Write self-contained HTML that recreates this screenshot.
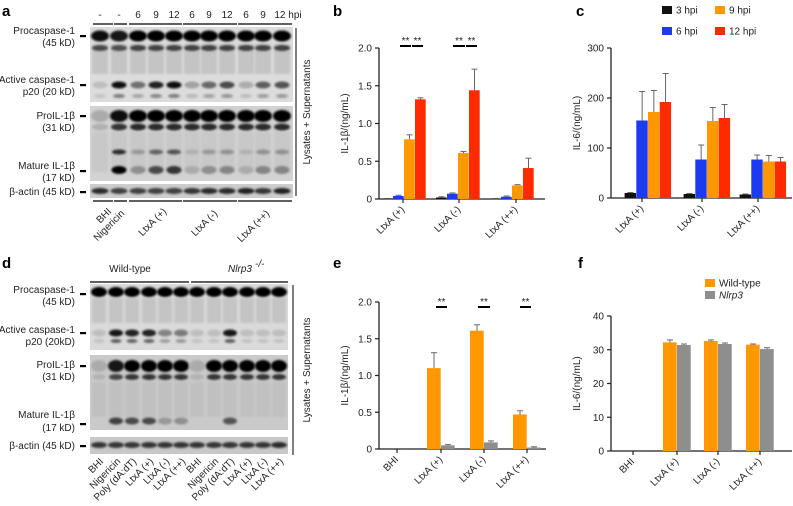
<!DOCTYPE html>
<html><head><meta charset="utf-8">
<style>
html,body{margin:0;padding:0;background:#fff;}
svg{display:block;font-family:"Liberation Sans",Arial,sans-serif;}
.t{font-size:10px;fill:#222;}
.pl{font-size:15px;font-weight:bold;fill:#000;}
</style></head>
<body>
<svg id="fig" width="793" height="506" viewBox="0 0 793 506" xmlns="http://www.w3.org/2000/svg">
<defs>
<filter id="blur1" x="-50%" y="-50%" width="200%" height="200%"><feGaussianBlur stdDeviation="1.1"/></filter>
</defs>
<text class="pl" x="2" y="16">a</text>
<text class="pl" x="333" y="16">b</text>
<text class="pl" x="576" y="16">c</text>
<text class="pl" x="2" y="268">d</text>
<text class="pl" x="333" y="268">e</text>
<text class="pl" x="578" y="268">f</text>
<g id="blots"></g>
<g id="charts"></g>
</svg>
<script>
// ---------- chart data ----------
const bCats = ["LtxA (+)", "LtxA (-)", "LtxA (++)"];
const bSeries = ["3 hpi", "6 hpi", "9 hpi", "12 hpi"];
const b3 = [0.005, 0.02, 0.005];
const b6 = [0.04, 0.07, 0.03];
const b9 = [0.79, 0.61, 0.18];
const b12 = [1.32, 1.44, 0.41];
const b3e = [0, 0.01, 0];
const b6e = [0.01, 0.01, 0.01];
const b9e = [0.06, 0.02, 0.01];
const b12e = [0.02, 0.28, 0.13];
const bTicks = [0, 0.5, 1.0, 1.5, 2.0];
const bTickLabels = ["0", "0.5", "1.0", "1.5", "2.0"];

const cCats = ["LtxA (+)", "LtxA (-)", "LtxA (++)"];
const c3 = [10, 8, 7];
const c6 = [155, 77, 77];
const c9 = [172, 154, 73];
const c12 = [192, 160, 73];
const c3e = [1, 1, 1];
const c6e = [58, 29, 9];
const c9e = [43, 27, 12];
const c12e = [57, 27, 8];
const cTicks = [0, 100, 200, 300];

const eCats = ["BHI", "LtxA (+)", "LtxA (-)", "LtxA (++)"];
const eWT = [0, 1.10, 1.61, 0.47];
const eNl = [0, 0.05, 0.09, 0.02];
const eWTe = [0, 0.21, 0.08, 0.05];
const eNle = [0, 0.01, 0.02, 0.01];
const eTicks = [0, 0.5, 1.0, 1.5, 2.0];
const eTickLabels = ["0", "0.5", "1.0", "1.5", "2.0"];

const fCats = ["BHI", "LtxA (+)", "LtxA (-)", "LtxA (++)"];
const fWT = [0, 32.2, 32.6, 31.5];
const fNl = [0, 31.4, 31.7, 30.2];
const fWTe = [0, 0.7, 0.3, 0.2];
const fNle = [0, 0.3, 0.3, 0.4];
const fTicks = [0, 10, 20, 30, 40];

const COL = {k:"#111111", b:"#1c3af0", o:"#ff9800", r:"#ff2a00", g:"#8e8e8e"};
const NS = "http://www.w3.org/2000/svg";
const charts = document.getElementById("charts");
function mk(tag, attrs, parent){
  const e = document.createElementNS(NS, tag);
  for (const k in attrs) e.setAttribute(k, attrs[k]);
  (parent||charts).appendChild(e);
  return e;
}
function txt(x,y,s,attrs,parent){
  const e = mk("text", Object.assign({x:x,y:y,class:"t"},attrs||{}), parent);
  e.textContent = s; return e;
}

function barChart(o){
  const g = mk("g", {});
  
  
  const ys = v => o.y0 - (v - o.min)/(o.max - o.min)*(o.y0 - o.y1);
  const ya = mk("line",{x1:o.x0,y1:o.y1,x2:o.x0,y2:o.y0+0.5,stroke:"#222","stroke-width":1.3},g);
  
  
  o.ticks.forEach((t,i)=>{
    const y = ys(t);
    mk("line",{x1:o.x0-4,y1:y,x2:o.x0,y2:y,stroke:"#222","stroke-width":1.2},g);
    const l = txt(o.x0-7,y+3.5,o.tickLabels?o.tickLabels[i]:String(t),{"text-anchor":"end"},g);
    
    
  });
  const xa = mk("line",{x1:o.x0,y1:o.y0,x2:o.x1,y2:o.y0,stroke:"#222","stroke-width":1.3},g);
  
  
  const yt = txt(0,0,o.ylabel,{transform:"translate("+o.ylx+","+((o.y0+o.y1)/2)+") rotate(-90)","text-anchor":"middle"},g);
  
  
  o.cats.forEach((c,i)=>{
    const cx = o.centers[i];
    mk("line",{x1:o.ticks2[i],y1:o.y0,x2:o.ticks2[i],y2:o.y0+4,stroke:"#222","stroke-width":1.2},g);
    const l = txt(0,0,c,{transform:"translate("+(o.ticks2[i]+2)+","+(o.y0+11)+") rotate(-45)","text-anchor":"end"},g);
    
    
    const n = o.series.length;
    o.series.forEach((s,j)=>{
      const v = s[i], e = o.errs[j][i];
      const x = cx + (j - n/2)*o.bw;
      const y = ys(v);
      if (v > 0 || e > 0){
        const ye = ys(v+e);
        mk("line",{x1:x+o.bw/2,y1:y,x2:x+o.bw/2,y2:ye,stroke:o.errCol||"#666","stroke-width":1},g);
        mk("line",{x1:x+o.bw/2-3,y1:ye,x2:x+o.bw/2+3,y2:ye,stroke:o.errCol||"#666","stroke-width":1},g);
      }
      const r = mk("rect",{x:x,y:y,width:o.bw-0.3,height:Math.max(0,o.y0-y),fill:o.colors[j]},g);
      
      
    });
  });
  return {g:g, ys:ys};
}

const B = barChart({name:"chart-b",x0:379,x1:545,y0:199,y1:48,min:0,max:2,ticks:bTicks,tickLabels:bTickLabels,
  cats:bCats,centers:[404,458,512],ticks2:[403,459,516],bw:11,series:[b3,b6,b9,b12],errs:[b3e,b6e,b9e,b12e],
  colors:[COL.k,COL.b,COL.o,COL.r],sname:["3hpi","6hpi","9hpi","12hpi"],ylabel:"IL-1β/(ng/mL)",ylx:348});
const C = barChart({name:"chart-c",x0:611,x1:792,y0:198,y1:48,min:0,max:300,ticks:cTicks,
  cats:cCats,centers:[648,707,763],ticks2:[642,702,758],bw:11.7,series:[c3,c6,c9,c12],errs:[c3e,c6e,c9e,c12e],
  colors:[COL.k,COL.b,COL.o,COL.r],sname:["3hpi","6hpi","9hpi","12hpi"],ylabel:"IL-6/(ng/mL)",ylx:580});
const E = barChart({name:"chart-e",x0:379,x1:546,y0:449,y1:302,min:0,max:2,ticks:eTicks,tickLabels:eTickLabels,
  cats:eCats,centers:[397,441,484,527],ticks2:[397,441,484,527],bw:14,series:[eWT,eNl],errs:[eWTe,eNle],
  colors:[COL.o,COL.g],sname:["wt","nlrp3"],ylabel:"IL-1β/(ng/mL)",ylx:348});
const F = barChart({name:"chart-f",x0:611,x1:792,y0:451,y1:316,min:0,max:40,ticks:fTicks,
  cats:fCats,centers:[633,677,718,760],ticks2:[633,677,718,760],bw:14,series:[fWT,fNl],errs:[fWTe,fNle],
  colors:[COL.o,COL.g],sname:["wt","nlrp3"],ylabel:"IL-6/(ng/mL)",ylx:580});

function sig(x1,x2,y){
  mk("line",{x1:x1,y1:y,x2:x2,y2:y,stroke:"#000","stroke-width":2});
  const t = txt((x1+x2)/2,y-2,"**",{"text-anchor":"middle","font-size":"9"});
  
  
}
sig(400,411,46); sig(412,423,46);
sig(453,465,46); sig(466,477,46);
sig(436,447,307); sig(478,490,307); sig(520,531,307);

function legendEntry(x,y,col,label,italic){
  const g = mk("g",{});
  
  
  mk("rect",{x:x,y:y,width:10,height:8,fill:col},g);
  txt(x+14,y+7.5,label,Object.assign({"font-size":"10"},italic?{"font-style":"italic"}:{}),g);
}
legendEntry(662,6,COL.k,"3 hpi"); legendEntry(715,6,COL.o,"9 hpi");
legendEntry(662,27,COL.b,"6 hpi"); legendEntry(715,27,COL.r,"12 hpi");
legendEntry(705,279,COL.o,"Wild-type"); legendEntry(705,291,COL.g,"Nlrp3",true);

// ---------- western blots ----------
const blots = document.getElementById("blots");
function bm(tag,attrs,parent){const e=document.createElementNS(NS,tag);for(const k in attrs)e.setAttribute(k,attrs[k]);(parent||blots).appendChild(e);return e;}
function bt(x,y,s,attrs,parent){const e=bm("text",Object.assign({x:x,y:y,class:"t"},attrs||{}),parent);e.textContent=s;return e;}

const aLanes = [100,119,138,156,174,192,209,227,246,263,282];
const aPro  = [0.95,0.9,1,1,1,1,1,1,1,1,1];
const aP20  = [0.05,0.95,0.45,0.85,0.95,0.2,0.5,0.65,0.15,0.55,0.6];
const aProIL= [0.15,0.95,1,1,1,1,1,1,1,1,1];
const aMat  = [0,1,0.3,0.65,0.75,0.15,0.3,0.35,0.15,0.35,0.35];
const aAct  = [0.8,0.7,0.7,0.7,0.7,0.75,0.8,0.8,0.85,0.75,0.85];
const dLanes = [99,116,132,149,165,181,197,214,230,247,263,279];
const dPro  = [1,1,1,1,1,1,1,1,1,1,1,1];
const dP20  = [0.05,0.9,0.85,0.85,0.35,0.4,0.05,0.05,0.9,0.05,0.05,0.05];
const dProIL= [0.15,0.9,1,1,1,1,0.15,1,1,1,1,1];
const dMat  = [0,0.7,0.65,0.65,0.25,0.3,0,0,0.6,0,0,0];
const dAct  = [0.75,0.75,0.75,0.75,0.75,0.75,0.75,0.75,0.75,0.75,0.75,0.8];

function membrane(x,y,w,h,bg,name){
  const r = bm("rect",{x:x,y:y,width:w,height:h,fill:bg});
  
  
}
function bands(lanes,vals,y,h,w){
  lanes.forEach((x,i)=>{
    const v = vals[i]; if (v<=0.02) return;
    const c = Math.round(200 - 195*v);
    const e = bm("ellipse",{cx:x,cy:y,rx:w/2,ry:h/2,fill:"rgb("+c+","+c+","+c+")",filter:"url(#blur1)"});
    
    
  });
}
function smear(lanes,y,h,w,shade){
  lanes.forEach(x=>{
    bm("rect",{x:x-w/2,y:y,width:w,height:h,fill:shade,opacity:0.45,filter:"url(#blur1)"});
  });
}
membrane(90,27,203,75,"#dcdcdc","blot-a-caspase");
membrane(90,106,203,75,"#d2d2d2","blot-a-il1b");
membrane(90,184,203,14,"#cdcdcd","blot-a-actin");
bands(aLanes,aPro,36,11,18);
smear(aLanes,44,30,16,"#a8a8a8");
bands(aLanes,aPro.map(v=>v*0.7),48,6,16);
bands(aLanes,aP20,85,7,15);
bands(aLanes,aP20.map(v=>v*0.4),96,4,12);
bands(aLanes,aProIL,116,12,18);
bands(aLanes,aProIL.map(v=>v*0.8),127,7,16);
smear(aLanes,132,40,16,"#bcbcbc");
bands(aLanes,aMat.map(v=>v*0.8),152,5,14);
bands(aLanes,aMat,170,8,15);
bands(aLanes,aAct,191,6,17);
membrane(90,284,198,66,"#dadada","blot-d-caspase");
membrane(90,355,198,75,"#cacaca","blot-d-il1b");
membrane(90,437,198,17,"#c8c8c8","blot-d-actin");
bands(dLanes,dPro,292,10,16);
smear(dLanes,298,25,14,"#aaaaaa");
bands(dLanes,dP20,333,7,14);
bands(dLanes,dP20.map(v=>v*0.6),341,4,11);
bands(dLanes,dProIL,366,12,16);
bands(dLanes,dProIL.map(v=>v*0.75),377,6,14);
smear(dLanes,382,35,14,"#b5b5b5");
bands(dLanes,dMat,421,7,14);
bands(dLanes,dAct,445,6,16);

const aLeft = [["Procaspase-1",34],["(45 kD)",46],["Active caspase-1",83],["p20 (20 kD)",95],["ProIL-1β",119],["(31 kD)",131],["Mature IL-1β",169],["(17 kD)",181],["β-actin (45 kD)",195]];
aLeft.forEach(l=>{const t=bt(75,l[1],l[0],{"text-anchor":"end","font-size":"10"});});
[36,85,116,171,192].forEach(y=>bm("rect",{x:80,y:y-1,width:6,height:2.2,fill:"#000"}));
const aTop = ["-","-","6","9","12","6","9","12","6","9","12 hpi"];
aTop.forEach((s,i)=>{const t=bt(aLanes[i]+(i==10?6:0),18,s,{"text-anchor":"middle","font-size":"10"});});
[[93,113],[114,127],[129,182],[183,237],[238,292]].forEach(s=>{bm("line",{x1:s[0],y1:24,x2:s[1],y2:24,stroke:"#000","stroke-width":1.3});bm("line",{x1:s[0],y1:201,x2:s[1],y2:201,stroke:"#000","stroke-width":1.3});});
bm("line",{x1:296,y1:28,x2:296,y2:196,stroke:"#000","stroke-width":1});
const aBot = [["BHI",112,206],["Nigericin",125,208],["LtxA (+)",167,206],["LtxA (-)",218,208],["LtxA (++)",270,208]];
aBot.forEach(l=>{const t=bt(0,0,l[0],{transform:"translate("+l[1]+","+(l[2]+6)+") rotate(-45)","text-anchor":"end","font-size":"10"});});
const lys1=bt(0,0,"Lysates + Supernatants",{transform:"translate(310,112) rotate(-90)","text-anchor":"middle","font-size":"10"});


const dLeft = [["Procaspase-1",293],["(45 kD)",305],["Active caspase-1",333],["p20 (20kD)",345],["ProIL-1β",368],["(31 kD)",380],["Mature IL-1β",418],["(17 kD)",431],["β-actin (45 kD)",449]];
dLeft.forEach(l=>{const t=bt(75,l[1],l[0],{"text-anchor":"end","font-size":"10"});});
[294,333,366,424,446].forEach(y=>bm("rect",{x:80,y:y-1,width:6,height:2.2,fill:"#000"}));
const wt=bt(130,272,"Wild-type",{"text-anchor":"middle","font-size":"10"});
const nl=bt(240,272,"Nlrp3",{"text-anchor":"middle","font-size":"10","font-style":"italic"});
bt(255,267,"-/-",{"font-size":"6","font-style":"italic"});
bm("line",{x1:90,y1:282,x2:189,y2:282,stroke:"#000","stroke-width":1.3});
bm("line",{x1:191,y1:282,x2:288,y2:282,stroke:"#000","stroke-width":1.3});
bm("line",{x1:293,y1:285,x2:293,y2:455,stroke:"#000","stroke-width":1});
const dBot = ["BHI","Nigericin","Poly (dA:dT)","LtxA (+)","LtxA (-)","LtxA (++)","BHI","Nigericin","Poly (dA:dT)","LtxA (+)","LtxA (-)","LtxA (++)"];
dBot.forEach((s,i)=>{const t=bt(0,0,s,{transform:"translate("+(dLanes[i]+5)+",462) rotate(-45)","text-anchor":"end","font-size":"10"});});
const lys2=bt(0,0,"Lysates + Supernatants",{transform:"translate(310,370) rotate(-90)","text-anchor":"middle","font-size":"10"});

</script>
</body></html>
